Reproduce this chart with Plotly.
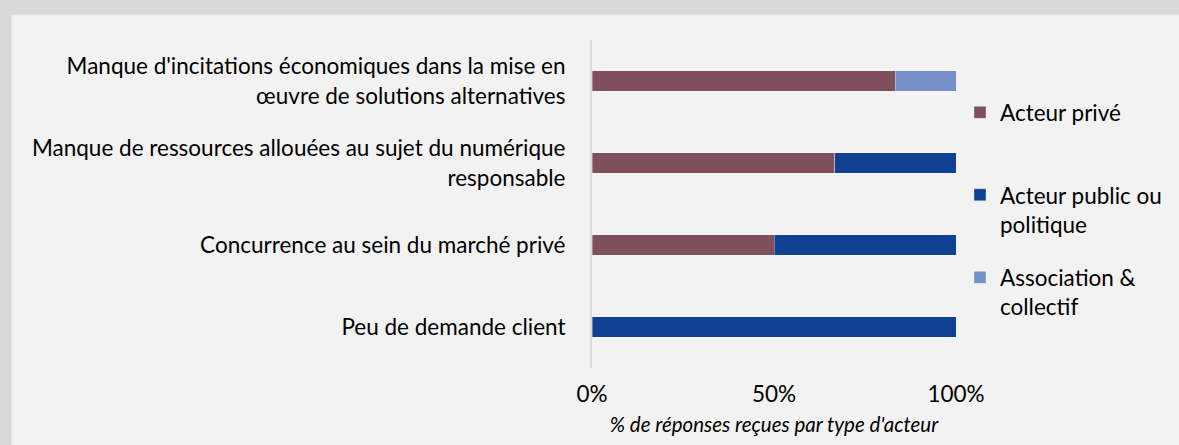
import plotly.graph_objects as go

categories = [
    "Manque d'incitations économiques dans la mise en<br>œuvre de solutions alternatives",
    "Manque de ressources allouées au sujet du numérique<br>responsable",
    "Concurrence au sein du marché privé",
    "Peu de demande client",
]
prive = [0.833, 0.667, 0.5, 0.0]
public = [0.0, 0.333, 0.5, 1.0]
association = [0.167, 0.0, 0.0, 0.0]

series_names = ["Acteur privé<br>\u00a0", "Acteur public ou<br>politique", "Association &<br>collectif"]
series_values = [prive, public, association]
colors = ["#7F4F5B", "#104092", "#7590CB"]

tick_vals = [0, 0.5, 1]
tick_text = ["0%", "50%", "100%"]

FONT = "Lato"
FS = 22.5

W, H = 1179, 445
L, R, T, B = 592, 222, 40, 72
pw, ph = W - L - R, H - T - B

fig = go.Figure()
for name, vals, col in zip(series_names, series_values, colors):
    fig.add_trace(go.Bar(
        y=categories, x=vals, name=name, orientation="h",
        marker=dict(color=col, line=dict(color="rgba(255,255,255,0.35)", width=1)),
        width=0.25, legendgroup=name,
    ))

fig.update_layout(
    width=W, height=H,
    margin=dict(l=L, r=R, t=T, b=B, pad=0),
    barmode="stack",
    paper_bgcolor="#d9d9d9",
    plot_bgcolor="#f2f2f2",
    font=dict(family=FONT, size=FS, color="#000000"),
    xaxis=dict(
        range=[0, 1], tickvals=tick_vals, ticktext=tick_text,
        showgrid=False, zeroline=False, showline=False,
        tickfont=dict(size=FS), ticklabelstandoff=10,
        title=dict(text="<i>% de réponses reçues par type d'acteur</i>", font=dict(size=20.5), standoff=12),
    ),
    yaxis=dict(
        autorange="reversed", showgrid=False, zeroline=False,
        showline=True, linecolor="#d9d9d9", linewidth=2,
        ticks="", ticklabelstandoff=20, tickfont=dict(size=FS),
    ),
    legend=dict(
        x=(961 - L) / pw, y=(373 - 92) / ph, xanchor="left", yanchor="top",
        bgcolor="rgba(0,0,0,0)", valign="top", traceorder="grouped",
        tracegroupgap=21, font=dict(size=FS), itemwidth=30,
    ),
    showlegend=True,
    shapes=[dict(
        type="rect", xref="paper", yref="paper", layer="below",
        x0=(10 - L) / pw, x1=2.0, y0=-0.5, y1=(373 - 14) / ph,
        fillcolor="#f2f2f2", line=dict(width=0),
    )],
)

fig.write_html(
    "out.html",
    config={"displayModeBar": False},
    post_script="document.body.style.margin='0';document.body.style.padding='0';",
)
